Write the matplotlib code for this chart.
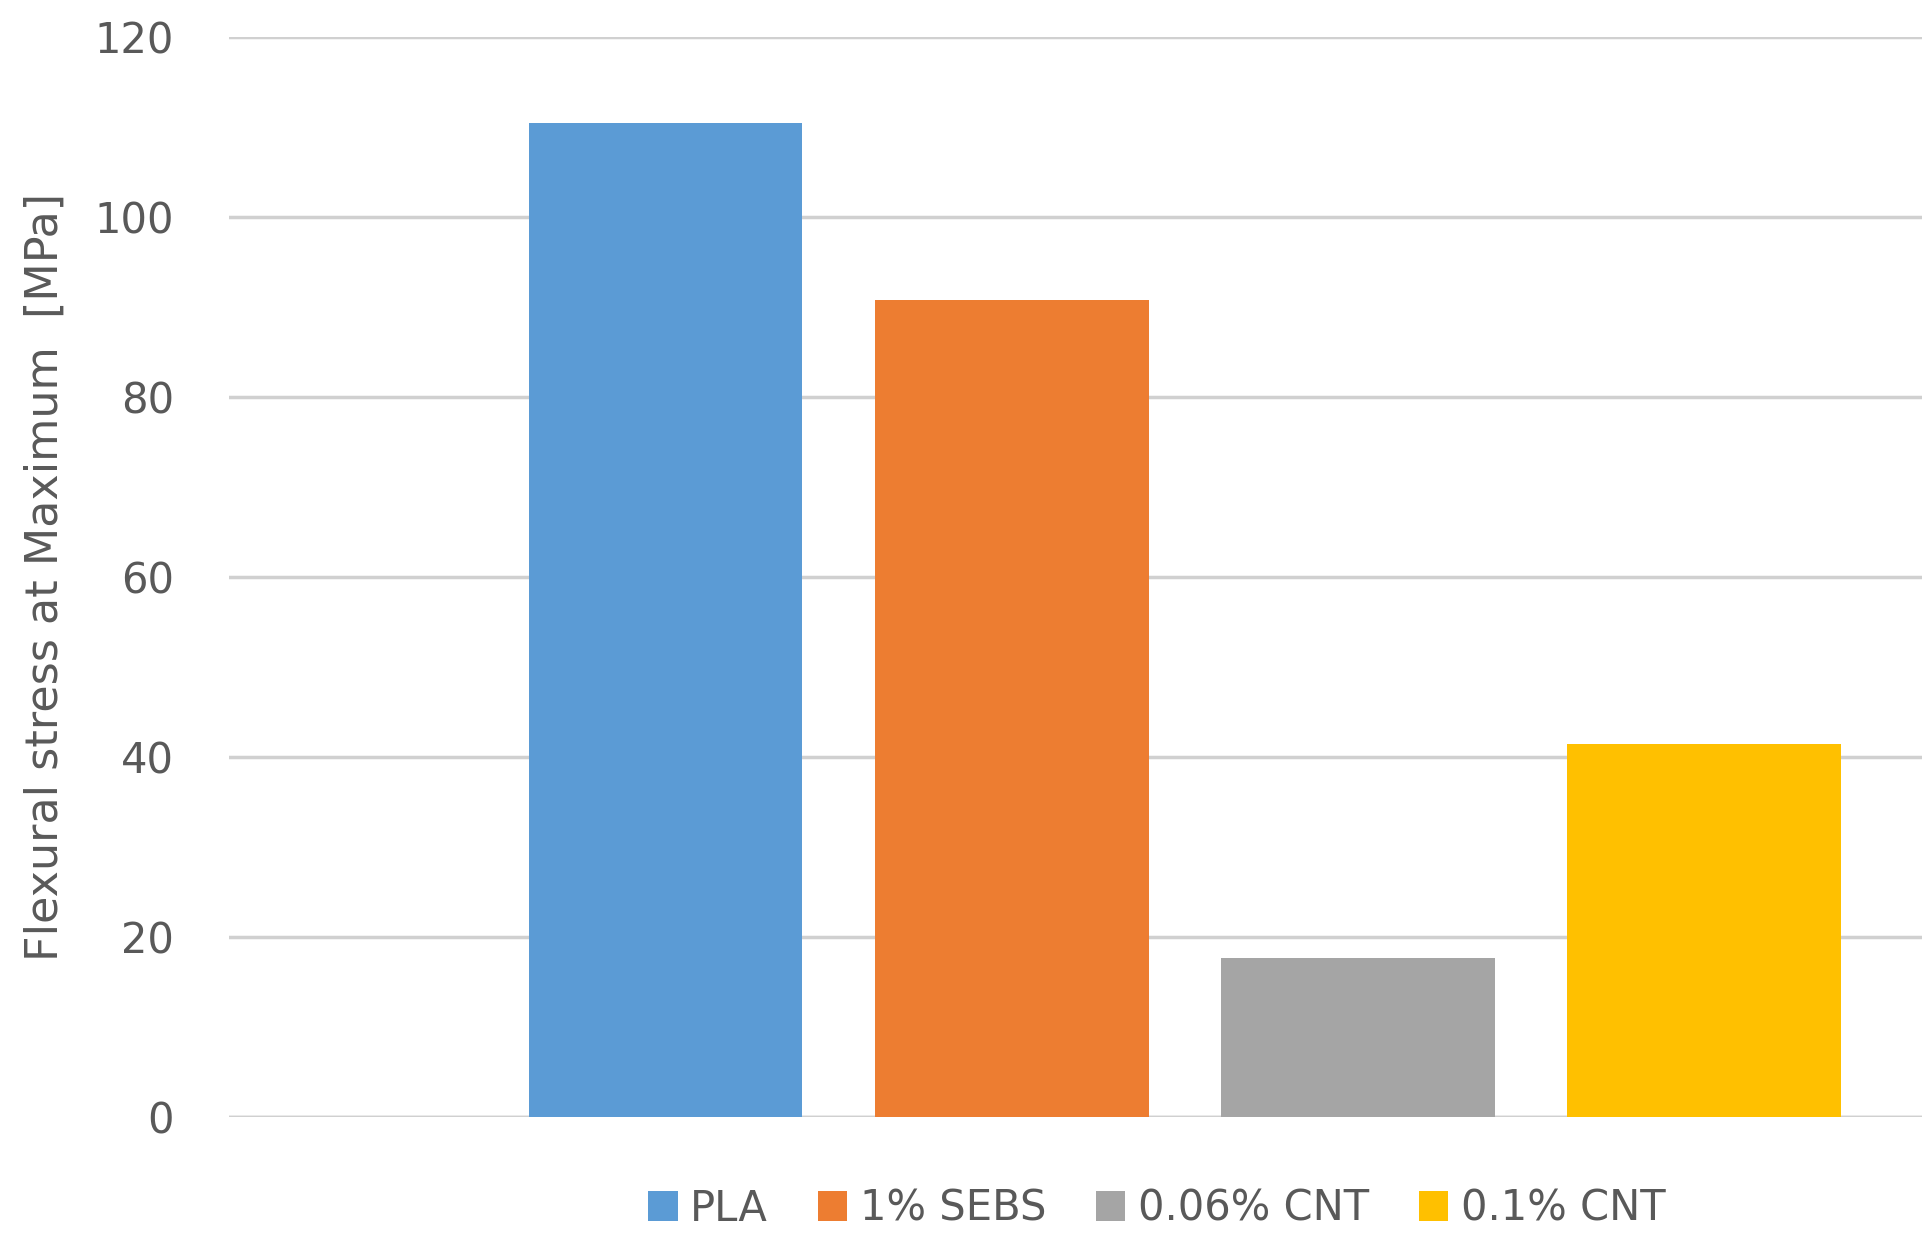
import matplotlib.pyplot as plt
import numpy as np

labels = ['PLA', '1% SEBS', '0.06% CNT', '0.1% CNT']
values = [110.4, 90.7, 17.6, 41.4]
colors = ['#5B9BD5', '#ED7D31', '#A5A5A5', '#FFC000']

fig = plt.figure(figsize=(19.28, 12.59), dpi=100)
ax = fig.add_axes([0.119, 0.113, 0.878, 0.858])

x = np.arange(len(values))
for i in range(len(values)):
    ax.bar(x[i], values[i], width=0.79, color=colors[i], label=labels[i], zorder=3)

ax.set_xlim(-1.26, 3.63)
ax.set_ylim(0, 120)
ax.set_yticks(np.arange(0, 121, 20))
ax.set_xticks([])
ax.grid(axis='y', color='#D0D0D0', linewidth=2.5, zorder=0)
for s in ax.spines.values():
    s.set_visible(False)
ax.axhline(0, color='#D0D0D0', linewidth=2.5, zorder=1)
ax.tick_params(axis='y', length=0, labelsize=30, labelcolor='#595959', pad=40)
ax.set_ylabel('Flexural stress at Maximum  [MPa]', fontsize=32, color='#595959', labelpad=20)

fig.legend(loc='center', bbox_to_anchor=(0.6, 0.04), ncol=4, frameon=False,
           fontsize=30, labelcolor='#595959', handlelength=0.7, handleheight=0.7,
           handletextpad=0.3, columnspacing=1.2)

fig.savefig('out.png', dpi=100)
